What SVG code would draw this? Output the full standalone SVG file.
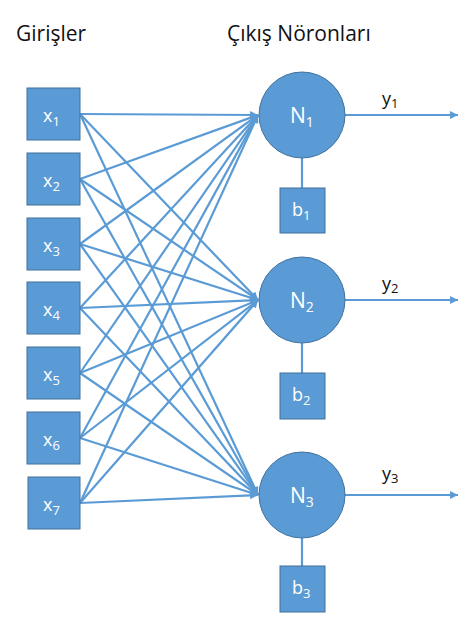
<svg xmlns="http://www.w3.org/2000/svg" width="466" height="627" viewBox="0 0 466 627">
<style>
.box{fill:#5B9BD5;stroke:#41719C;stroke-width:1}
.lbl{fill:#fff;font-family:"Open Sans","Noto Sans",sans-serif}
.ttl{fill:#111;font-family:"Open Sans","Noto Sans",sans-serif;font-size:21px}
.ln{stroke:#5B9BD5;stroke-width:2.2;fill:none}
.yl{fill:#111;font-family:"Open Sans","Noto Sans",sans-serif;font-size:18px}
</style>
<defs>
<marker id="ah" viewBox="0 0 10 10" refX="10" refY="5" markerWidth="3.6" markerHeight="3.6" markerUnits="strokeWidth" orient="auto">
<path d="M0,0 L10,5 L0,10 Z" fill="#5B9BD5"/>
</marker>
</defs>
<rect width="466" height="627" fill="#fff"/>
<text class="ttl" x="16" y="41">Girişler</text>
<text class="ttl" x="227" y="41">Çıkış Nöronları</text>
<g id="connectors">
<line class="ln" x1="80" y1="114" x2="258" y2="115" marker-end="url(#ah)"/>
<line class="ln" x1="80" y1="179" x2="258" y2="115" marker-end="url(#ah)"/>
<line class="ln" x1="80" y1="244" x2="258" y2="115" marker-end="url(#ah)"/>
<line class="ln" x1="80" y1="308" x2="258" y2="115" marker-end="url(#ah)"/>
<line class="ln" x1="80" y1="373" x2="258" y2="115" marker-end="url(#ah)"/>
<line class="ln" x1="80" y1="438" x2="258" y2="115" marker-end="url(#ah)"/>
<line class="ln" x1="80" y1="503" x2="258" y2="115" marker-end="url(#ah)"/>
<line class="ln" x1="80" y1="114" x2="258" y2="300" marker-end="url(#ah)"/>
<line class="ln" x1="80" y1="179" x2="258" y2="300" marker-end="url(#ah)"/>
<line class="ln" x1="80" y1="244" x2="258" y2="300" marker-end="url(#ah)"/>
<line class="ln" x1="80" y1="308" x2="258" y2="300" marker-end="url(#ah)"/>
<line class="ln" x1="80" y1="373" x2="258" y2="300" marker-end="url(#ah)"/>
<line class="ln" x1="80" y1="438" x2="258" y2="300" marker-end="url(#ah)"/>
<line class="ln" x1="80" y1="503" x2="258" y2="300" marker-end="url(#ah)"/>
<line class="ln" x1="80" y1="114" x2="258" y2="495" marker-end="url(#ah)"/>
<line class="ln" x1="80" y1="179" x2="258" y2="495" marker-end="url(#ah)"/>
<line class="ln" x1="80" y1="244" x2="258" y2="495" marker-end="url(#ah)"/>
<line class="ln" x1="80" y1="308" x2="258" y2="495" marker-end="url(#ah)"/>
<line class="ln" x1="80" y1="373" x2="258" y2="495" marker-end="url(#ah)"/>
<line class="ln" x1="80" y1="438" x2="258" y2="495" marker-end="url(#ah)"/>
<line class="ln" x1="80" y1="503" x2="258" y2="495" marker-end="url(#ah)"/>
<line class="ln" x1="345" y1="115" x2="458" y2="115" marker-end="url(#ah)"/>
<line class="ln" x1="345" y1="300" x2="458" y2="300" marker-end="url(#ah)"/>
<line class="ln" x1="345" y1="495" x2="458" y2="495" marker-end="url(#ah)"/>
<line class="ln" x1="302" y1="158" x2="302" y2="188"/>
<line class="ln" x1="302" y1="343" x2="302" y2="373"/>
<line class="ln" x1="302" y1="538" x2="302" y2="566"/>
</g>
<g id="x1"><rect class="box" x="27" y="88" width="53" height="52"/><text class="lbl" x="43" y="122" font-size="18">x<tspan font-size="13" dy="4">1</tspan></text></g>
<g id="x2"><rect class="box" x="27" y="153" width="53" height="52"/><text class="lbl" x="43" y="187" font-size="18">x<tspan font-size="13" dy="4">2</tspan></text></g>
<g id="x3"><rect class="box" x="27" y="218" width="53" height="52"/><text class="lbl" x="43" y="252" font-size="18">x<tspan font-size="13" dy="4">3</tspan></text></g>
<g id="x4"><rect class="box" x="27" y="282" width="53" height="52"/><text class="lbl" x="43" y="316" font-size="18">x<tspan font-size="13" dy="4">4</tspan></text></g>
<g id="x5"><rect class="box" x="27" y="347" width="53" height="52"/><text class="lbl" x="43" y="381" font-size="18">x<tspan font-size="13" dy="4">5</tspan></text></g>
<g id="x6"><rect class="box" x="27" y="412" width="53" height="52"/><text class="lbl" x="43" y="446" font-size="18">x<tspan font-size="13" dy="4">6</tspan></text></g>
<g id="x7"><rect class="box" x="28" y="477" width="52" height="52"/><text class="lbl" x="43" y="511" font-size="18">x<tspan font-size="13" dy="4">7</tspan></text></g>
<g id="N1"><circle class="box" cx="302" cy="115" r="43"/><text class="lbl" x="290" y="123" font-size="21">N<tspan font-size="14" dy="4">1</tspan></text></g>
<g id="N2"><circle class="box" cx="302" cy="300" r="43"/><text class="lbl" x="290" y="308" font-size="21">N<tspan font-size="14" dy="4">2</tspan></text></g>
<g id="N3"><circle class="box" cx="302" cy="495" r="43"/><text class="lbl" x="290" y="503" font-size="21">N<tspan font-size="14" dy="4">3</tspan></text></g>
<g id="b1"><rect class="box" x="280" y="188" width="45" height="45"/><text class="lbl" x="292" y="216" font-size="18">b<tspan font-size="13" dy="4">1</tspan></text></g>
<g id="b2"><rect class="box" x="280" y="373" width="45" height="46"/><text class="lbl" x="292" y="401" font-size="18">b<tspan font-size="13" dy="4">2</tspan></text></g>
<g id="b3"><rect class="box" x="280" y="566" width="45" height="46"/><text class="lbl" x="292" y="594" font-size="18">b<tspan font-size="13" dy="4">3</tspan></text></g>
<g id="y1"><text class="yl" x="382" y="105">y<tspan font-size="13" dy="3">1</tspan></text></g>
<g id="y2"><text class="yl" x="382" y="290">y<tspan font-size="13" dy="3">2</tspan></text></g>
<g id="y3"><text class="yl" x="382" y="480">y<tspan font-size="13" dy="3">3</tspan></text></g>
</svg>
